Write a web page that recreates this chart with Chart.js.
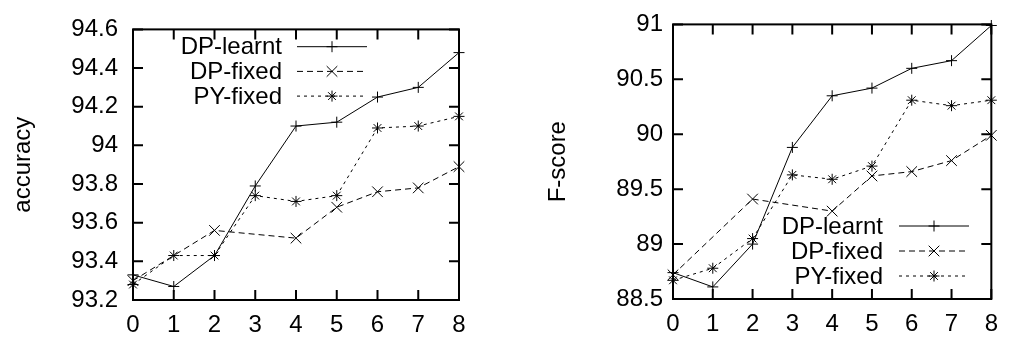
<!DOCTYPE html>
<html><head><meta charset="utf-8">
<script src="https://cdn.jsdelivr.net/npm/chart.js@4/dist/chart.umd.min.js"></script>
<style>
html,body{margin:0;padding:0;background:#fff;width:1009px;height:338px;overflow:hidden}
.box{position:absolute;top:0}
</style></head><body>
<div class="box" style="left:0"><canvas id="c1" width="480" height="338"></canvas></div>
<div class="box" style="left:505px"><canvas id="c2" width="504" height="338"></canvas></div>
<script>
const categories = ['0','1','2','3','4','5','6','7','8'];
const seriesNames = ['DP-learnt','DP-fixed','PY-fixed'];
// accuracy (left)
const accDPlearnt = [93.33, 93.27, 93.43, 93.79, 94.10, 94.12, 94.25, 94.30, 94.48];
const accDPfixed  = [93.30, null, 93.56, null, 93.52, 93.68, 93.76, 93.78, 93.89];
const accPYfixed  = [93.28, 93.43, 93.43, 93.74, 93.71, 93.74, 94.09, 94.10, 94.15];
const accTicks = [93.2, 93.4, 93.6, 93.8, 94, 94.2, 94.4, 94.6];
const accTickLabels = ['93.2','93.4','93.6','93.8','94','94.2','94.4','94.6'];
// F-score (right)
const fDPlearnt = [88.74, 88.61, 89.00, 89.88, 90.35, 90.42, 90.60, 90.67, 90.99];
const fDPfixed  = [88.72, null, 89.41, null, 89.30, 89.62, 89.66, 89.76, 89.99];
const fPYfixed  = [88.67, 88.78, 89.05, 89.63, 89.59, 89.71, 90.31, 90.26, 90.31];
const fTicks = [88.5, 89, 89.5, 90, 90.5, 91];
const fTickLabels = ['88.5','89','89.5','90','90.5','91'];

const FONT = "'Liberation Sans', Arial, sans-serif";
const styles = [
  {dash: [], point: 'cross', r: 5.5},
  {dash: [6,4], point: 'crossRot', r: 7.5},
  {dash: [3,4], point: 'star', r: 5.5}
];

function drawMarker(ctx, style, x, y, r){
  ctx.save();
  ctx.setLineDash([]);
  ctx.lineWidth = 1;
  ctx.strokeStyle = '#000';
  ctx.beginPath();
  if (style === 'cross' || style === 'star'){
    ctx.moveTo(x - r, y); ctx.lineTo(x + r, y);
    ctx.moveTo(x, y - r); ctx.lineTo(x, y + r);
  }
  if (style === 'crossRot' || style === 'star'){
    const d = r * 0.707;
    ctx.moveTo(x - d, y - d); ctx.lineTo(x + d, y + d);
    ctx.moveTo(x - d, y + d); ctx.lineTo(x + d, y - d);
  }
  ctx.stroke();
  ctx.restore();
}

const framePlugin = {
  id: 'frame',
  afterDatasetsDraw(chart, args, opts) {
    const {ctx, chartArea: a, scales} = chart;
    ctx.save();
    ctx.strokeStyle = '#000';
    ctx.lineWidth = 2;
    ctx.setLineDash([]);
    const tl = 10;
    ctx.beginPath();
    scales.x.ticks.forEach((t, i) => {
      const px = scales.x.getPixelForTick(i);
      ctx.moveTo(px, a.bottom); ctx.lineTo(px, a.bottom - tl);
      ctx.moveTo(px, a.top); ctx.lineTo(px, a.top + tl);
    });
    scales.y.ticks.forEach(t => {
      const py = scales.y.getPixelForValue(t.value);
      ctx.moveTo(a.left, py); ctx.lineTo(a.left + tl, py);
      ctx.moveTo(a.right, py); ctx.lineTo(a.right - tl, py);
    });
    ctx.stroke();
    ctx.strokeRect(a.left, a.top, a.right - a.left, a.bottom - a.top);
    // legend
    const L = opts;
    ctx.font = '24px ' + FONT;
    ctx.fillStyle = '#000';
    ctx.textAlign = 'right';
    ctx.textBaseline = 'middle';
    chart.data.datasets.forEach((ds, i) => {
      const y = L.y0 + i * L.dy;
      ctx.fillText(ds.label, L.textRight, y + 1);
      ctx.save();
      ctx.lineWidth = 1;
      ctx.setLineDash(styles[i].dash);
      ctx.beginPath();
      ctx.moveTo(L.x1, y); ctx.lineTo(L.x2, y);
      ctx.stroke();
      ctx.restore();
      drawMarker(ctx, styles[i].point, (L.x1 + L.x2) / 2, y, styles[i].r);
    });
    ctx.restore();
  }
};

function makeDatasets(arrs){
  return arrs.map((d, i) => ({
    label: seriesNames[i],
    data: d,
    borderColor: '#000',
    backgroundColor: '#000',
    borderWidth: 1,
    borderDash: styles[i].dash,
    pointStyle: styles[i].point,
    pointRadius: styles[i].r,
    pointBorderWidth: 1,
    pointBorderColor: '#000',
    spanGaps: true,
    tension: 0,
    clip: false
  }));
}

function makeChart(id, arrs, ticks, tickLabels, title, cfg){
  return new Chart(document.getElementById(id), {
    type: 'line',
    data: { labels: categories, datasets: makeDatasets(arrs) },
    plugins: [framePlugin],
    options: {
      responsive: false,
      animation: false,
      devicePixelRatio: 1,
      layout: { padding: { left: 0, right: cfg.padRight, top: cfg.padTop, bottom: 0 } },
      plugins: {
        legend: { display: false },
        tooltip: { enabled: false },
        frame: cfg.legend
      },
      scales: {
        x: {
          type: 'category',
          offset: false,
          grid: { display: false, drawTicks: false },
          border: { display: false },
          ticks: { color: '#000', font: { family: FONT, size: 24 }, padding: 11, maxRotation: 0, autoSkip: false },
          afterFit: s => { s.height = cfg.xHeight; }
        },
        y: {
          min: ticks[0], max: ticks[ticks.length - 1],
          grid: { display: false, drawTicks: false },
          border: { display: false },
          afterBuildTicks: s => { s.ticks = ticks.map(v => ({ value: v })); },
          ticks: {
            color: '#000', font: { family: FONT, size: 24 }, padding: cfg.yPad,
            callback: (v) => { const k = ticks.indexOf(v); return k >= 0 ? tickLabels[k] : ''; }
          },
          title: { display: true, text: title, color: '#000', font: { family: FONT, size: 24 }, padding: { top: cfg.titlePad, bottom: 0 } },
          afterFit: s => { s.width = cfg.yWidth; }
        }
      }
    }
  });
}

makeChart('c1', [accDPlearnt, accDPfixed, accPYfixed], accTicks, accTickLabels, 'accuracy', {
  padRight: 21, padTop: 23, xHeight: 38, yWidth: 133, yPad: 15, titlePad: 9,
  legend: { textRight: 282, x1: 297, x2: 367, y0: 46.7, dy: 24.7 }
});
makeChart('c2', [fDPlearnt, fDPfixed, fPYfixed], fTicks, fTickLabels, 'F-score', {
  padRight: 10, padTop: 23, xHeight: 39, yWidth: 168, yPad: 10, titlePad: 39,
  legend: { textRight: 378, x1: 394, x2: 464, y0: 226, dy: 25 }
});
</script>
</body></html>
